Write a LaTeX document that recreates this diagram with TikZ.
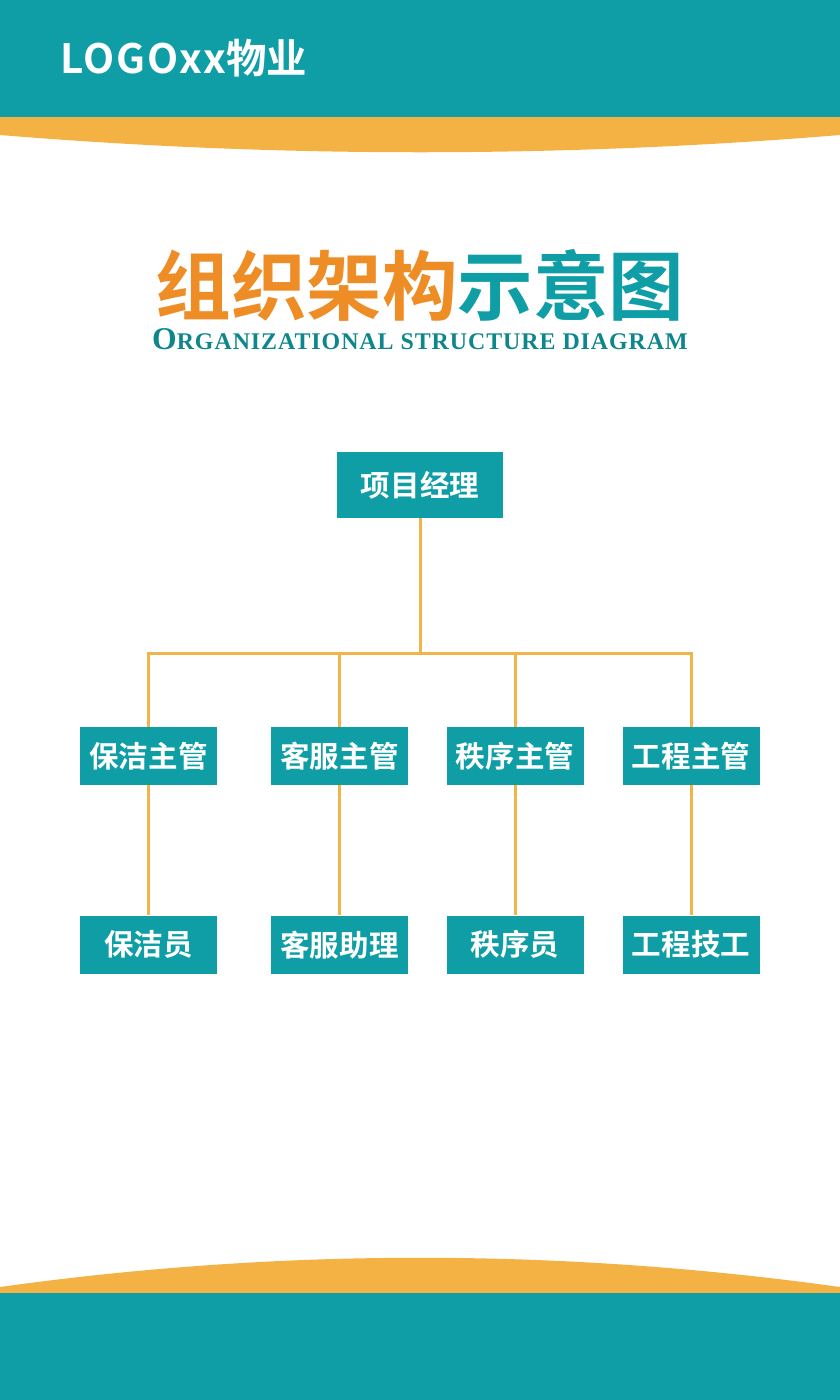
\documentclass[tikz,border=0pt]{standalone}
\usepackage{fontspec}
\usetikzlibrary{positioning}
\newfontfamily\cjk{Noto Sans CJK SC}[BoldFont={Noto Sans CJK SC Bold}]
\setmainfont{Liberation Serif}
\definecolor{teal}{HTML}{0F9EA5}
\definecolor{band}{HTML}{F5B244}
\definecolor{tangerine}{HTML}{EE8C25}
\definecolor{wire}{HTML}{F0B44A}
\def\Big#1#2{{\fontsize{18}{18}\selectfont #1}{\fontsize{13.6}{14}\selectfont #2}}

\begin{document}
\begin{tikzpicture}[% one unit is one pixel of the 840x1400 sheet
			x=0.2mm,y=-0.2mm,
			every node/.style={
				align=center,  		% centre the text in every box
				inner sep=0pt,
				font=\cjk\bfseries\fontsize{16.8}{20}\selectfont
			},
			box/.style={rectangle,fill=teal,text=white,minimum width=27.4mm,minimum height=11.6mm},
			wire/.style={draw=wire,line width=0.6mm}
		]
		\useasboundingbox (0,0) rectangle (840,1400);
		% header and footer bands
		\fill[band] (0,110) rectangle (840,135) .. controls (560,158) and (280,158) .. (0,135) -- cycle;
		\fill[teal] (0,0) rectangle (840,117);
		\fill[band] (0,1300) -- (0,1287) .. controls (280,1248) and (560,1248) .. (840,1287) -- (840,1300) -- cycle;
		\fill[teal] (0,1293) rectangle (840,1400);
		\node[anchor=west,text=white,font=\cjk\bfseries\fontsize{23}{24}\selectfont](logo) at (60,58){{\addfontfeature{LetterSpace=4}LOGOxx}物业};
		% title
		\node[font=\cjk\bfseries\fontsize{43}{48}\selectfont](title) at (420,285){\textcolor{tangerine}{组织架构}\textcolor{teal}{示意图}};
		\node[text=teal!85!black,font=\bfseries\addfontfeature{LetterSpace=4}](sub) at (420,339){\Big{O}{RGANIZATIONAL STRUCTURE DIAGRAM}};
		% tree
		\node[box,minimum width=33.2mm,minimum height=13.2mm](pm) at (420,485){项目经理};
		\node[box](c1) at (148.5,756){保洁主管};
		\node[box](c2) at (339.5,756){客服主管};
		\node[box](c3) at (515,756){秩序主管};
		\node[box](c4) at (691,756){工程主管};
		\node[box](s1)[below=26mm of c1]{保洁员};
		\node[box](s2)[below=26mm of c2]{客服助理};
		\node[box](s3)[below=26mm of c3]{秩序员};
		\node[box](s4)[below=26mm of c4]{工程技工};
		\coordinate (bus) at (420,653);
		\draw[wire] (pm.south) -- (bus);
		\draw[wire] (c1.north) -- (c1.north |- bus) -- (c4.north |- bus) -- (c4.north);
		\draw[wire] (c2.north) -- (c2.north |- bus);
		\draw[wire] (c3.north) -- (c3.north |- bus);
		\path[wire]
		(c1) edge (s1)
		(c2) edge (s2)
		(c3) edge (s3)
		(c4) edge (s4)
		;
	\end{tikzpicture}
\end{document}
